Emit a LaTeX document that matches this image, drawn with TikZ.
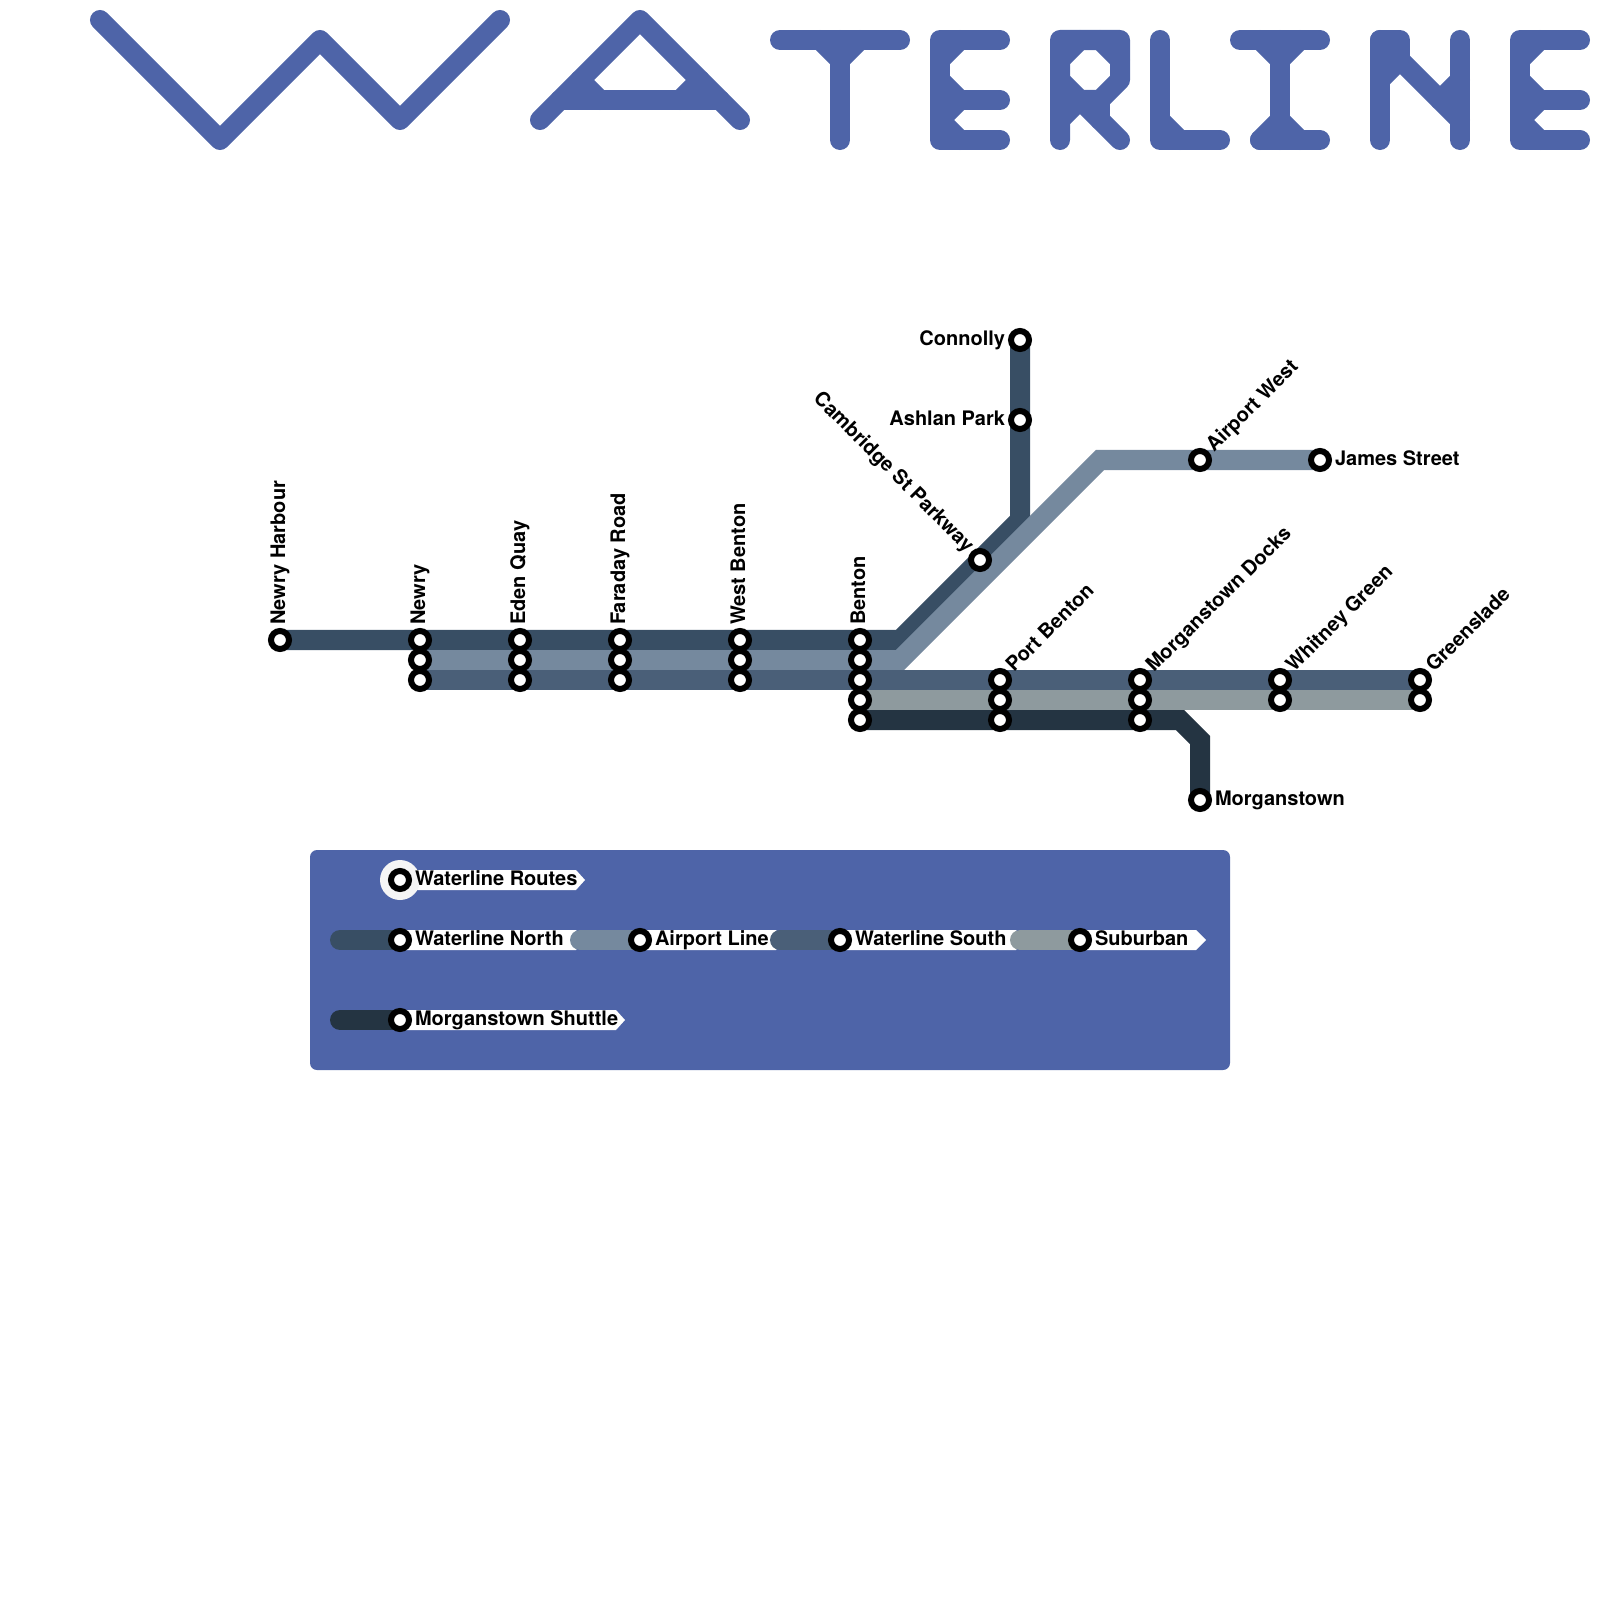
\documentclass[tikz,border=0pt]{standalone}
\usepackage{fontspec}
\setmainfont{TeX Gyre Heros}
\usetikzlibrary{positioning, backgrounds}
\definecolor{brandblue}{HTML}{4E64A8}
\definecolor{northcol}{HTML}{384E64}
\definecolor{airportcol}{HTML}{75899E}
\definecolor{southcol}{HTML}{4A5F78}
\definecolor{suburbcol}{HTML}{8E9A9E}
\definecolor{shuttlecol}{HTML}{243442}
\begin{document}
\begin{tikzpicture}[
    x=0.01cm, y=-0.01cm,
    letter/.style={draw=brandblue, line width=0.2cm, line cap=round, line join=round},
    stn/.style={circle, draw=black, fill=white, line width=0.06cm, minimum size=0.18cm, inner sep=0pt},
    lbl/.style={font=\bfseries\fontsize{5.69pt}{6pt}\selectfont, inner sep=0pt, outer sep=0pt, text height=2.845pt, text depth=0pt},
    route/.style={line width=0.2cm},
    legbar/.style={line width=0.2cm, line cap=round},
    tag/.style={fill=white}
]
    \useasboundingbox (0,0) rectangle (1600,1600);

    % Title
    \draw[letter] (100,20) -- (220,140) -- (320,40) -- (400,120) -- (500,20);
    \draw[letter] (540,120) -- (640,20) -- (740,120);
    \draw[letter] (560,100) -- (720,100);
    \draw[letter] (580,80) -- (600,100);
    \draw[letter] (700,80) -- (680,100);
    \draw[letter] (780,40) -- (900,40);
    \draw[letter] (840,40) -- (840,140);
    \draw[letter] (820,40) -- (840,60) -- (860,40);
    \draw[letter] (1000,40) -- (940,40) -- (940,140) -- (1000,140);
    \draw[letter] (940,100) -- (1000,100);
    \draw[letter] (960,40) -- (940,60);
    \draw[letter] (940,80) -- (960,100) -- (940,120) -- (960,140);
    \draw[letter] (1060,140) -- (1060,40) -- (1120,40) -- (1120,80) -- (1100,100) -- (1060,100);
    \draw[letter] (1080,40) -- (1060,60);
    \draw[letter] (1100,40) -- (1120,60);
    \draw[letter] (1060,80) -- (1080,100) -- (1060,120);
    \draw[letter] (1100,100) -- (1100,120);
    \draw[letter] (1080,100) -- (1120,140);
    \draw[letter] (1160,40) -- (1160,140) -- (1220,140);
    \draw[letter] (1160,120) -- (1180,140);
    \draw[letter] (1240,40) -- (1320,40);
    \draw[letter] (1280,40) -- (1280,140);
    \draw[letter] (1260,140) -- (1320,140);
    \draw[letter] (1260,40) -- (1280,60) -- (1300,40);
    \draw[letter] (1260,140) -- (1280,120) -- (1300,140);
    \draw[letter] (1380,140) -- (1380,40) -- (1400,40) -- (1400,60);
    \draw[letter] (1380,40) -- (1460,120);
    \draw[letter] (1380,80) -- (1400,60);
    \draw[letter] (1440,100) -- (1460,80);
    \draw[letter] (1460,40) -- (1460,140);
    \draw[letter] (1580,40) -- (1520,40) -- (1520,140) -- (1580,140);
    \draw[letter] (1520,100) -- (1580,100);
    \draw[letter] (1540,40) -- (1520,60);
    \draw[letter] (1520,80) -- (1540,100) -- (1520,120) -- (1540,140);

    % Stations
    \node[stn] (harbour) at (280,640) {};
    \node[stn] (newrya) at (420,640) {};
    \node[stn] (newryb) at (420,660) {};
    \node[stn] (newryc) at (420,680) {};
    \node[stn] (edena) at (520,640) {};
    \node[stn] (edenb) at (520,660) {};
    \node[stn] (edenc) at (520,680) {};
    \node[stn] (faradaya) at (620,640) {};
    \node[stn] (faradayb) at (620,660) {};
    \node[stn] (faradayc) at (620,680) {};
    \node[stn] (westa) at (740,640) {};
    \node[stn] (westb) at (740,660) {};
    \node[stn] (westc) at (740,680) {};
    \node[stn] (bentona) at (860,640) {};
    \node[stn] (bentonb) at (860,660) {};
    \node[stn] (bentonc) at (860,680) {};
    \node[stn] (bentond) at (860,700) {};
    \node[stn] (bentone) at (860,720) {};
    \node[stn] (porta) at (1000,680) {};
    \node[stn] (portb) at (1000,700) {};
    \node[stn] (portc) at (1000,720) {};
    \node[stn] (docksa) at (1140,680) {};
    \node[stn] (docksb) at (1140,700) {};
    \node[stn] (docksc) at (1140,720) {};
    \node[stn] (whitneya) at (1280,680) {};
    \node[stn] (whitneyb) at (1280,700) {};
    \node[stn] (greena) at (1420,680) {};
    \node[stn] (greenb) at (1420,700) {};
    \node[stn] (morgan) at (1200,800) {};
    \node[stn] (connolly) at (1020,340) {};
    \node[stn] (ashlan) at (1020,420) {};
    \node[stn] (cambridge) at (980,560) {};
    \node[stn] (airwest) at (1200,460) {};
    \node[stn] (james) at (1320,460) {};

    % Station labels
    \node[lbl, above=0.15cm of harbour.center, anchor=west, rotate=90] (harbourl) {Newry Harbour};
    \node[lbl, above=0.15cm of newrya.center, anchor=west, rotate=90] (newryl) {Newry};
    \node[lbl, above=0.15cm of edena.center, anchor=west, rotate=90] (edenl) {Eden Quay};
    \node[lbl, above=0.15cm of faradaya.center, anchor=west, rotate=90] (faradayl) {Faraday Road};
    \node[lbl, above=0.15cm of westa.center, anchor=west, rotate=90] (westl) {West Benton};
    \node[lbl, above=0.15cm of bentona.center, anchor=west, rotate=90] (bentonl) {Benton};
    \node[lbl, above right=0.106cm and 0.106cm of porta.center, anchor=west, rotate=45] (portl) {Port Benton};
    \node[lbl, above right=0.106cm and 0.106cm of docksa.center, anchor=west, rotate=45] (docksl) {Morganstown Docks};
    \node[lbl, above right=0.106cm and 0.106cm of whitneya.center, anchor=west, rotate=45] (whitneyl) {Whitney Green};
    \node[lbl, above right=0.106cm and 0.106cm of greena.center, anchor=west, rotate=45] (greenl) {Greenslade};
    \node[lbl, above right=0.106cm and 0.106cm of airwest.center, anchor=west, rotate=45] (airwestl) {Airport West};
    \node[lbl, above left=0.106cm and 0.106cm of cambridge.center, anchor=east, rotate=-45] (cambridgel) {Cambridge St Parkway};
    \node[lbl, left=0.15cm of connolly.center] (connollyl) {Connolly};
    \node[lbl, left=0.15cm of ashlan.center] (ashlanl) {Ashlan Park};
    \node[lbl, right=0.15cm of james.center] (jamesl) {James Street};
    \node[lbl, right=0.15cm of morgan.center] (morganl) {Morganstown};

    % Legend stations
    \node[stn] (legroutes) at (400,880) {};
    \node[stn] (legnorth) at (400,940) {};
    \node[stn] (legairport) at (640,940) {};
    \node[stn] (legsouth) at (840,940) {};
    \node[stn] (legsuburb) at (1080,940) {};
    \node[stn] (legshuttle) at (400,1020) {};
    \node[lbl, right=0.15cm of legroutes.center] (legroutesl) {Waterline Routes};
    \node[lbl, right=0.15cm of legnorth.center] (legnorthl) {Waterline North};
    \node[lbl, right=0.15cm of legairport.center] (legairportl) {Airport Line};
    \node[lbl, right=0.15cm of legsouth.center] (legsouthl) {Waterline South};
    \node[lbl, right=0.15cm of legsuburb.center] (legsuburbl) {Suburban};
    \node[lbl, right=0.15cm of legshuttle.center] (legshuttlel) {Morganstown Shuttle};

    \coordinate (northbenda) at (900,640);
    \coordinate (northbendb) at (1020,520);
    \coordinate (airbenda) at (900,660);
    \coordinate (airbendb) at (1100,460);
    \coordinate (shuttlebenda) at (1180,720);
    \coordinate (shuttlebendb) at (1200,740);

    \begin{scope}[on background layer]
        % Legend panel
        \fill[brandblue, rounded corners=0.07cm] (310,850) rectangle (1230,1070);
        \fill[tag] (legroutes.center) ++(0,-10) -- ++(176,0) -- ++(9,10) -- ++(-9,10) -- ++(-176,0) -- cycle;
        \fill[white!96!black] (legroutes.center) circle (20);
        \fill[tag] (legnorth.center) ++(0,-10) -- ++(176,0) -- ++(9,10) -- ++(-9,10) -- ++(-176,0) -- cycle;
        \draw[legbar, northcol] (legnorth.center) -- ++(-60,0);
        \fill[tag] (legairport.center) ++(0,-10) -- ++(136,0) -- ++(9,10) -- ++(-9,10) -- ++(-136,0) -- cycle;
        \draw[legbar, airportcol] (legairport.center) -- ++(-60,0);
        \fill[tag] (legsouth.center) ++(0,-10) -- ++(176,0) -- ++(9,10) -- ++(-9,10) -- ++(-176,0) -- cycle;
        \draw[legbar, southcol] (legsouth.center) -- ++(-60,0);
        \fill[tag] (legsuburb.center) ++(0,-10) -- ++(116,0) -- ++(10,10) -- ++(-10,10) -- ++(-116,0) -- cycle;
        \draw[legbar, suburbcol] (legsuburb.center) -- ++(-60,0);
        \fill[tag] (legshuttle.center) ++(0,-10) -- ++(216,0) -- ++(9,10) -- ++(-9,10) -- ++(-216,0) -- cycle;
        \draw[legbar, shuttlecol] (legshuttle.center) -- ++(-60,0);

        % Lines
        \draw[route, northcol] (harbour.center) -- (northbenda) -- (northbendb) -- (connolly.center);
        \draw[route, airportcol] (newryb.center) -- (airbenda) -- (airbendb) -- (james.center);
        \draw[route, southcol] (newryc.center) -- (greena.center);
        \draw[route, suburbcol] (bentond.center) -- (greenb.center);
        \draw[route, shuttlecol] (bentone.center) -- (shuttlebenda) -- (shuttlebendb) -- (morgan.center);
    \end{scope}
\end{tikzpicture}
\end{document}
